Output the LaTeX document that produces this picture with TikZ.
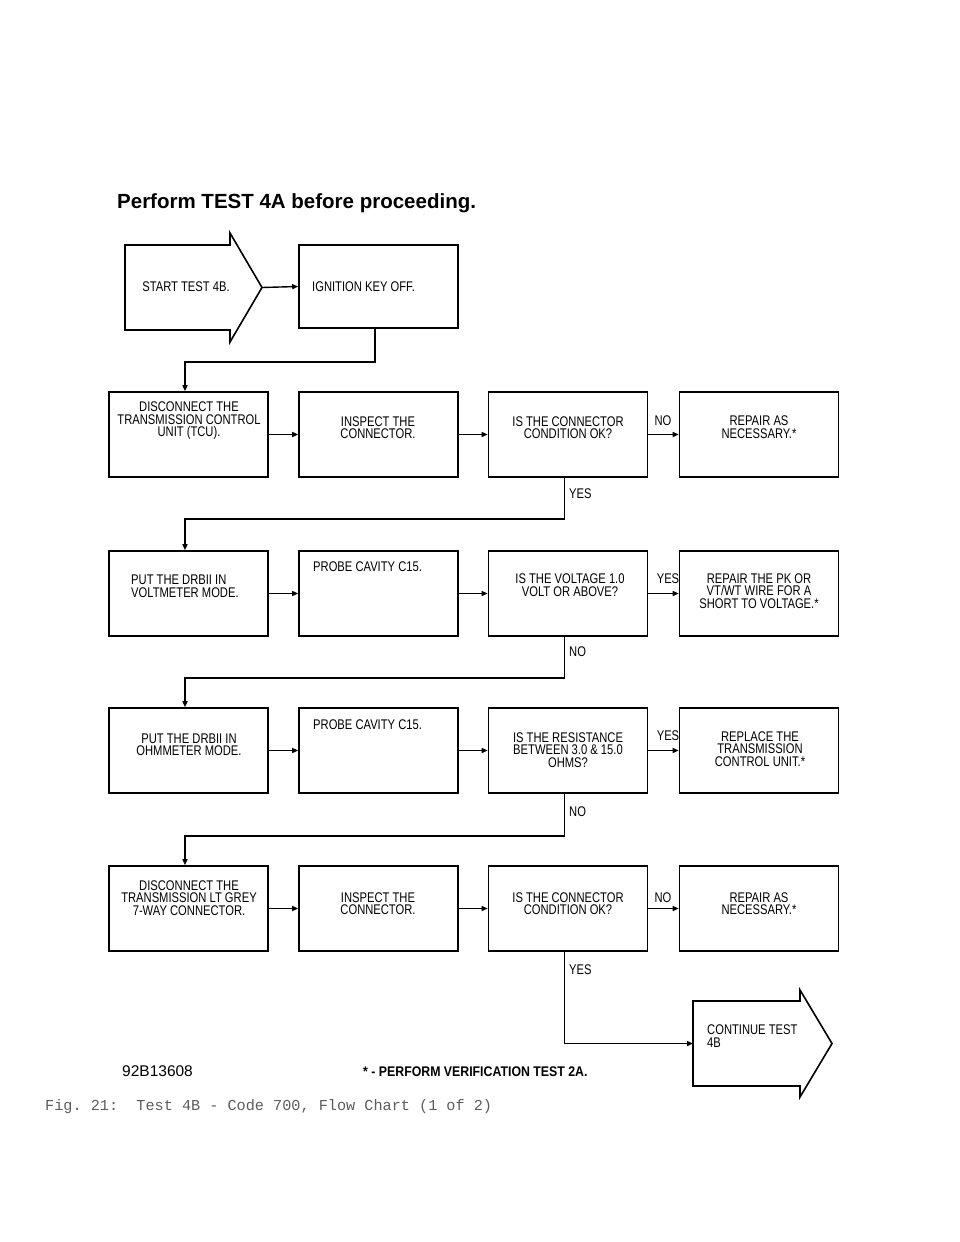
\documentclass[tikz,border=0pt]{standalone}
\usepackage{fontspec}
\setmainfont{Liberation Sans}
\newfontfamily\plotfont[FakeStretch=0.8]{Liberation Sans}
\newfontfamily\notefont[FakeStretch=0.88]{Liberation Sans}
\newfontfamily\capfont{Liberation Mono}
\usetikzlibrary{arrows.meta}
\definecolor{capgray}{HTML}{5C5C5C}

\begin{document}
\begin{tikzpicture}[x=1pt, y=-1pt,
  box/.style={draw, line width=1.6pt, minimum width=159pt, minimum height=85pt, inner sep=0pt},
  txt/.style={font=\plotfont\fontsize{14}{12.5}\selectfont, align=center, inner sep=0pt},
  conn/.style={line width=1.4pt, -{Triangle[length=6pt,width=5pt]}},
  outline/.style={line width=1.6pt, line join=miter}]
\useasboundingbox (0,0) rectangle (960,1242);
\node[anchor=base west, font=\bfseries\fontsize{20.5}{24}\selectfont, inner sep=0pt] (title) at (117,208) {Perform TEST 4A before proceeding.};
% start / continue arrows
\draw[outline] (125,245) -- (230,245) -- (230,233) -- (262,287.5) -- (230,342) -- (230,330) -- (125,330) -- cycle;
\coordinate (stip) at (262,287.5);
\node[txt] (start) at (186,287) {START TEST 4B.};
\draw[outline] (693,1001) -- (800,1001) -- (800,990) -- (832,1043.5) -- (800,1097) -- (800,1086) -- (693,1086) -- cycle;
\coordinate (cont) at (693,1043.5);
\node[txt, align=left, anchor=west] (conttxt) at (707,1036) {CONTINUE TEST\\4B};
% boxes
\node[box, minimum height=83pt] (ign) at (378.5,286.5) {};
\node[box] (a1) at (188.5,434.5) {};
\node[box] (a2) at (378.5,434.5) {};
\node[box] (a3) at (568,434.5) {};
\node[box] (a4) at (759,434.5) {};
\node[box] (b1) at (188.5,593.5) {};
\node[box] (b2) at (378.5,593.5) {};
\node[box] (b3) at (568,593.5) {};
\node[box] (b4) at (759,593.5) {};
\node[box] (c1) at (188.5,750.5) {};
\node[box] (c2) at (378.5,750.5) {};
\node[box] (c3) at (568,750.5) {};
\node[box] (c4) at (759,750.5) {};
\node[box] (d1) at (188.5,908.5) {};
\node[box] (d2) at (378.5,908.5) {};
\node[box] (d3) at (568,908.5) {};
\node[box] (d4) at (759,908.5) {};
% texts
\node[txt, anchor=west] (igntxt) at (312,287) {IGNITION KEY OFF.};
\node[txt] (ta1) at (189,421) {DISCONNECT THE\\TRANSMISSION CONTROL\\UNIT (TCU).};
\node[txt] (ta2) at (378,427.5) {INSPECT THE\\CONNECTOR.};
\node[txt] (ta3) at (568,427.5) {IS THE CONNECTOR\\CONDITION OK?};
\node[txt] (ta4) at (759,427) {REPAIR AS\\NECESSARY.*};
\node[txt, align=left, anchor=west] (tb1) at (131,586) {PUT THE DRBII IN\\VOLTMETER MODE.};
\node[txt, anchor=west] (tb2) at (313,567) {PROBE CAVITY C15.};
\node[txt] (tb3) at (570,585) {IS THE VOLTAGE 1.0\\VOLT OR ABOVE?};
\node[txt] (tb4) at (759,591) {REPAIR THE PK OR\\VT/WT WIRE FOR A\\SHORT TO VOLTAGE.*};
\node[txt] (tc1) at (189,744.5) {PUT THE DRBII IN\\OHMMETER MODE.};
\node[txt, anchor=west] (tc2) at (313,725) {PROBE CAVITY C15.};
\node[txt] (tc3) at (568,750) {IS THE RESISTANCE\\BETWEEN 3.0 \& 15.0\\OHMS?};
\node[txt] (tc4) at (760,749) {REPLACE THE\\TRANSMISSION\\CONTROL UNIT.*};
\node[txt] (td1) at (189,898) {DISCONNECT THE\\TRANSMISSION LT GREY\\7-WAY CONNECTOR.};
\node[txt] (td2) at (378,903.5) {INSPECT THE\\CONNECTOR.};
\node[txt] (td3) at (568,903.5) {IS THE CONNECTOR\\CONDITION OK?};
\node[txt] (td4) at (759,903.5) {REPAIR AS\\NECESSARY.*};
% yes / no
\node[txt] (no1) at (663,421) {NO};
\node[txt, anchor=west] (yes1) at (569,494) {YES};
\node[txt] (yes2) at (668,579) {YES};
\node[txt, anchor=west] (no2) at (569,652) {NO};
\node[txt] (yes3) at (668,736) {YES};
\node[txt, anchor=west] (no3) at (569,812) {NO};
\node[txt] (no4) at (663,898) {NO};
\node[txt, anchor=west] (yes4) at (569,970) {YES};
% connectors
\draw[conn] (stip) -- (ign.west);
\draw[conn] ([xshift=-3.5pt]ign.south) -- ++(0,33) -| ([xshift=-3.5pt]a1.north);
\draw[conn] (a1) -- (a2);
\draw[conn] (a2) -- (a3);
\draw[conn] (a3) -- (a4);
\draw[conn] ([xshift=-3.5pt]a3.south) -- ++(0,41) -| ([xshift=-3.5pt]b1.north);
\draw[conn] (b1) -- (b2);
\draw[conn] (b2) -- (b3);
\draw[conn] (b3) -- (b4);
\draw[conn] ([xshift=-3.5pt]b3.south) -- ++(0,41) -| ([xshift=-3.5pt]c1.north);
\draw[conn] (c1) -- (c2);
\draw[conn] (c2) -- (c3);
\draw[conn] (c3) -- (c4);
\draw[conn] ([xshift=-3.5pt]c3.south) -- ++(0,42) -| ([xshift=-3.5pt]d1.north);
\draw[conn] (d1) -- (d2);
\draw[conn] (d2) -- (d3);
\draw[conn] (d3) -- (d4);
\draw[conn] ([xshift=-3.5pt]d3.south) |- (cont);
% footer
\node[anchor=west, font=\fontsize{15.5}{18}\selectfont, inner sep=0pt] (code) at (122,1071) {92B13608};
\node[anchor=west, font=\notefont\bfseries\fontsize{14}{16}\selectfont, inner sep=0pt] (note) at (363,1072) {* - PERFORM VERIFICATION TEST 2A.};
\node[anchor=west, font=\capfont\fontsize{15.2}{18}\selectfont, text=capgray, inner sep=0pt] (caption) at (45,1107) {Fig.\ 21:\ \ Test 4B - Code 700, Flow Chart (1 of 2)};
\end{tikzpicture}
\end{document}
